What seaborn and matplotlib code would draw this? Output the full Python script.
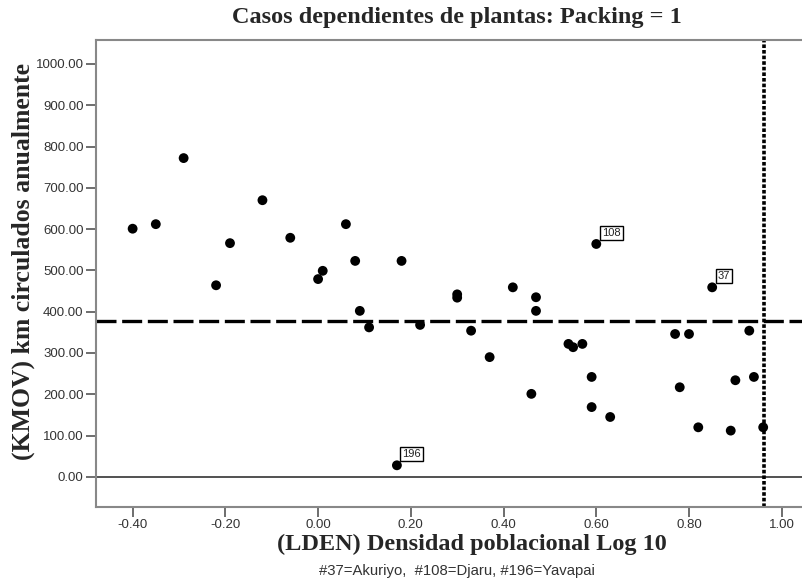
import numpy as np
import pandas as pd
import matplotlib
matplotlib.use("Agg")
import matplotlib.pyplot as plt
import seaborn as sns

lden = [-0.40, -0.35, -0.29, -0.22, -0.19, -0.12, -0.06, 0.00, 0.01, 0.06,
        0.08, 0.18, 0.09, 0.11, 0.17, 0.22, 0.30, 0.30, 0.33, 0.37,
        0.42, 0.46, 0.47, 0.47, 0.54, 0.55, 0.57, 0.59, 0.59, 0.60,
        0.63, 0.77, 0.78, 0.80, 0.82, 0.85, 0.89, 0.90, 0.93, 0.94, 0.96]
kmov = [601, 612, 772, 464, 566, 670, 579, 479, 499, 612,
        523, 523, 402, 362, 28, 368, 442, 434, 354, 290,
        459, 201, 435, 402, 322, 314, 322, 242, 169, 564,
        145, 346, 217, 346, 120, 459, 112, 234, 354, 242, 120]

label_ids = ["37", "108", "196"]
label_x = [0.85, 0.60, 0.17]
label_y = [459, 564, 28]

mean_kmov = 378
ref_lden = 0.962

x_ticks = [-0.40, -0.20, 0.00, 0.20, 0.40, 0.60, 0.80, 1.00]
y_ticks = [0, 100, 200, 300, 400, 500, 600, 700, 800, 900, 1000]

title = "Casos dependientes de plantas: Packing = 1"
xlabel = "(LDEN) Densidad poblacional Log 10"
ylabel = "(KMOV) km circulados anualmente"
footnote = "#37=Akuriyo,  #108=Djaru, #196=Yavapai"

sns.set_style("white")
plt.rcParams['font.family'] = ['Liberation Sans', 'DejaVu Sans']

df = pd.DataFrame({"LDEN": lden, "KMOV": kmov})

W, H = 802, 581
fig = plt.figure(figsize=(W / 100, H / 100), dpi=100)
ax = fig.add_axes([96 / W, 74 / H, 1 - 96 / W + 0.01, (507 - 40) / H])

ax.axhline(0, color="#333333", lw=1.2, zorder=1)
ax.axhline(mean_kmov, color="black", lw=2.4, dashes=(6, 1.7), zorder=2)
ax.axvline(ref_lden, color="black", lw=2.6, dashes=(1, 0.55), zorder=2)

sns.scatterplot(data=df, x="LDEN", y="KMOV", color="black", s=50,
                edgecolor="none", ax=ax, zorder=3, legend=False)

for lid, lx, ly in zip(label_ids, label_x, label_y):
    ax.annotate(lid, (lx, ly), xytext=(4.0, 4.4), textcoords="offset points",
                fontsize=8, color="#222222", ha="left", va="bottom",
                bbox=dict(boxstyle="square,pad=0.2", fc="white", ec="black", lw=1.0),
                zorder=4)

ax.set_xlim(-0.479, 1.061)
ax.set_ylim(-73, 1058)
ax.set_xticks(x_ticks)
ax.set_xticklabels([f"{t:.2f}" for t in x_ticks])
ax.set_yticks(y_ticks)
ax.set_yticklabels([f"{t:.2f}" for t in y_ticks])
ax.tick_params(axis="both", direction="out", length=7, width=1.2, color="#555555",
               labelsize=9.5, labelcolor="#333333", pad=2, left=True, bottom=True)

for side in ["left", "bottom", "top"]:
    ax.spines[side].set_color("#888888")
    ax.spines[side].set_linewidth(1.5)
ax.spines["right"].set_visible(False)
ax.set_xlabel("")
ax.set_ylabel("")

serif = ['Liberation Serif', 'DejaVu Serif']
fig.text(472 / W, 1 - 544 / H, xlabel, family=serif, fontweight="bold", fontsize=17.5,
         ha="center", va="center")
fig.text(23 / W, 1 - 262 / H, ylabel, family=serif, fontweight="bold", fontsize=18.5,
         ha="center", va="center", rotation=90)
fig.text(457 / W, 1 - 18 / H, title, family=serif, fontweight="bold", fontsize=17.5,
         ha="center", va="center")
fig.text(457 / W, 1 - 571 / H, footnote, fontsize=10.7, color="#333333",
         ha="center", va="center")

fig.savefig("out.png", dpi=100, facecolor="white")
